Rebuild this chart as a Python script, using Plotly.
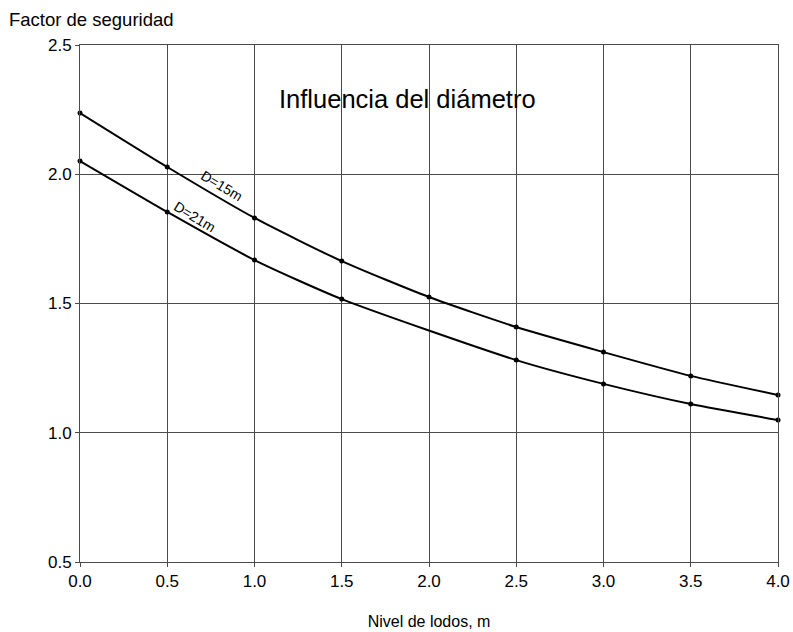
import plotly.graph_objects as go

# Nivel de lodos (m) and safety factor for each tank diameter
nivel_15 = [0.0, 0.5, 1.0, 1.5, 2.0, 2.5, 3.0, 3.5, 4.0]
fs_15 = [2.237, 2.028, 1.831, 1.664, 1.525, 1.409, 1.312, 1.220, 1.146]

nivel_21 = [0.0, 0.5, 1.0, 1.5, 2.5, 3.0, 3.5, 4.0]
fs_21 = [2.051, 1.854, 1.668, 1.517, 1.281, 1.189, 1.111, 1.049]

x_ticks = [0.0, 0.5, 1.0, 1.5, 2.0, 2.5, 3.0, 3.5, 4.0]
y_ticks = [0.5, 1.0, 1.5, 2.0, 2.5]

font = "Liberation Sans, Arial, sans-serif"

fig = go.Figure()
for xs, ys in [(nivel_15, fs_15), (nivel_21, fs_21)]:
    fig.add_trace(go.Scatter(
        x=xs, y=ys, mode="lines+markers",
        line=dict(color="black", width=2, shape="spline", smoothing=0.6),
        marker=dict(color="black", size=5),
        showlegend=False, cliponaxis=False,
    ))

fig.add_annotation(x=1.877, y=2.291, text="Influencia del diámetro", showarrow=False,
                   font=dict(family=font, size=25.5, color="black"))
fig.add_annotation(x=0.814, y=1.955, text="D=15m", showarrow=False, textangle=31,
                   font=dict(family=font, size=14, color="black"))
fig.add_annotation(x=0.660, y=1.835, text="D=21m", showarrow=False, textangle=31,
                   font=dict(family=font, size=14, color="black"))
fig.add_annotation(x=0, y=1, xref="paper", yref="paper", xanchor="left", yanchor="bottom",
                   xshift=-73, yshift=13, text="Factor de seguridad", showarrow=False,
                   font=dict(family=font, size=18.5, color="black"))

axis_style = dict(showgrid=True, gridcolor="#4a4a4a", gridwidth=1,
                  showline=True, linecolor="#4a4a4a", linewidth=1, mirror=True,
                  ticks="outside", ticklen=4, tickcolor="#4a4a4a", zeroline=False,
                  automargin=False,
                  tickfont=dict(family=font, size=17, color="black"))

fig.update_xaxes(range=[0, 4], tickvals=x_ticks, ticktext=[f"{v:.1f}" for v in x_ticks],
                 title=dict(text="Nivel de lodos, m", standoff=25,
                            font=dict(family=font, size=16, color="black")),
                 **axis_style)
fig.update_yaxes(range=[0.5, 2.5], tickvals=y_ticks, ticktext=[f"{v:.1f}" for v in y_ticks],
                 **axis_style)

fig.update_layout(width=793, height=632, margin=dict(l=80, r=15, t=45, b=70),
                  plot_bgcolor="white", paper_bgcolor="white",
                  font=dict(family=font, color="black"))

fig.write_html("out.html")
